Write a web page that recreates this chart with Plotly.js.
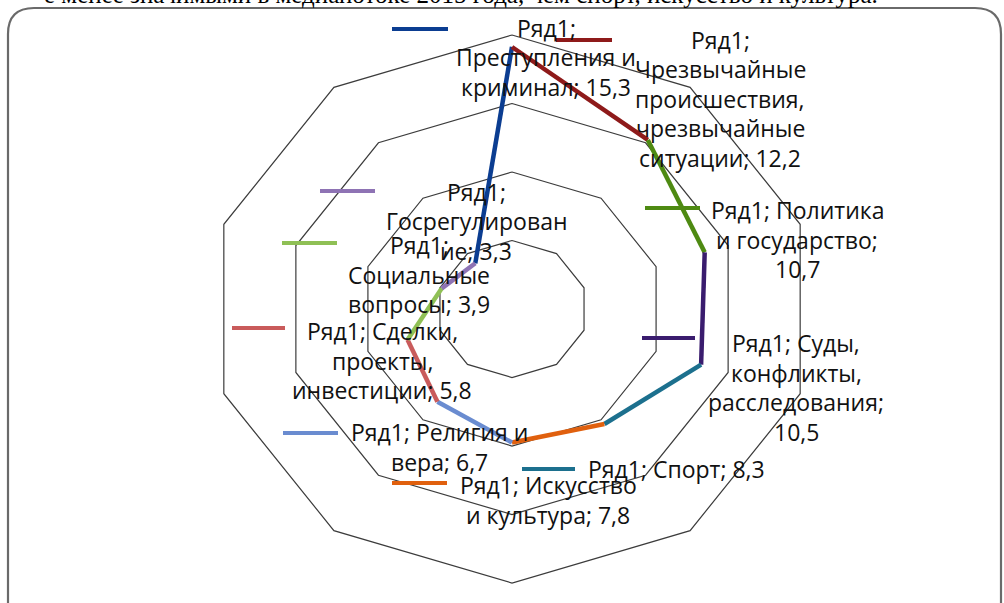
<!DOCTYPE html>
<html><head><meta charset="utf-8">
<script src="https://cdn.plot.ly/plotly-3.0.1.min.js"></script>
<style>html,body{margin:0;padding:0;background:#fff;overflow:hidden}#chart{width:1004px;height:603px;}</style>
</head><body><div id="chart"></div>
<script>
// ---------- data ----------
const seriesName = 'Ряд1';
const categories = [
  'Преступления и криминал',
  'Чрезвычайные происшествия, чрезвычайные ситуации',
  'Политика и государство',
  'Суды, конфликты, расследования',
  'Спорт',
  'Искусство и культура',
  'Религия и вера',
  'Сделки, проекты, инвестиции',
  'Социальные вопросы',
  'Госрегулирование'
];
const values = [15.3, 12.2, 10.7, 10.5, 8.3, 7.8, 6.7, 5.8, 3.9, 3.3];
const gridValues = [4, 8, 12, 16];
const pageText = 'е менее значимыми в медиапотоке 2015 года, чем спорт, искусство и культура.';

// ---------- styles / positions ----------
const colors = ['#0b3d91', '#8e1a1a', '#4e8a12', '#3a1c6e', '#1c708e',
                '#e0600e', '#6a8cd0', '#c95b5b', '#8fc055', '#8e73b4'];
const wrapWidths = [14, 14, 14, 14, 16, 15, 15, 15, 12, 14];
// label block: centre x (px), first line y (px)
const labelPos = [[546, 28], [720, 40], [797, 210], [796, 343], [676, 469],
                  [548, 485], [439, 432], [382, 331], [419, 245], [476, 192]];
// legend keys: x0, x1, y (px)
const keyPos = [[392, 448, 29], [556, 612, 40], [645, 700, 208], [642, 695, 338], [522, 575, 469],
                [392, 447, 483], [283, 338, 433], [232, 285, 328], [282, 337, 243], [320, 375, 191]];
const W = 1004, H = 603;
const CX = 512, CY = 309, RX = 303, RY = 274, RMAX = 16; // polar frame in px
const LINE_PITCH = 29.5;

const px = x => x / W;
const py = y => 1 - y / H;
const N = categories.length;
const ang = i => 2 * Math.PI * i / N;
const fmt = v => v.toFixed(1).replace('.', ',');

function wrap(text, w) {
  const words = text.split(' ');
  const lines = []; let cur = '';
  for (let wd of words) {
    const cand = cur ? cur + ' ' + wd : wd;
    if (cand.length <= w) { cur = cand; continue; }
    if (cur) { lines.push(cur); cur = ''; }
    while (wd.length > w) { lines.push(wd.slice(0, w)); wd = wd.slice(w); }
    cur = wd;
  }
  if (cur) lines.push(cur);
  return lines;
}

const traces = [];
// grid polygons
gridValues.forEach(g => {
  const xs = [], ys = [];
  for (let i = 0; i <= N; i++) { xs.push(g * Math.sin(ang(i % N))); ys.push(g * Math.cos(ang(i % N))); }
  traces.push({type: 'scatter', mode: 'lines', x: xs, y: ys,
    line: {color: '#3c3c3c', width: 1.2}, hoverinfo: 'skip', showlegend: false});
});
// series segments, coloured by point
for (let i = 0; i < N; i++) {
  const j = (i + N - 1) % N;
  traces.push({type: 'scatter', mode: 'lines', name: categories[i],
    x: [values[j] * Math.sin(ang(j)), values[i] * Math.sin(ang(i))],
    y: [values[j] * Math.cos(ang(j)), values[i] * Math.cos(ang(i))],
    line: {color: colors[i], width: 4.5}, showlegend: false});
}

const annotations = [];
const shapes = [];
for (let i = 0; i < N; i++) {
  const lines = wrap(`${seriesName}; ${categories[i]}; ${fmt(values[i])}`, wrapWidths[i]);
  lines.forEach((ln, k) => {
    annotations.push({xref: 'paper', yref: 'paper', x: px(labelPos[i][0]), y: py(labelPos[i][1] + k * LINE_PITCH),
      xanchor: 'center', yanchor: 'middle', showarrow: false, text: ln,
      font: {family: 'Open Sans', size: 23, color: '#111'}});
  });
  const k = keyPos[i];
  shapes.push({type: 'line', xref: 'paper', yref: 'paper', x0: px(k[0]), x1: px(k[1]), y0: py(k[2]), y1: py(k[2]),
    line: {color: colors[i], width: 4}});
}
// top page text (clipped)
annotations.push({xref: 'paper', yref: 'paper', x: px(880), y: py(10), xanchor: 'right', yanchor: 'bottom',
  showarrow: false, text: pageText, font: {family: 'Liberation Serif', size: 25, color: '#000'}});
// chart frame
const fx0 = 8, fy0 = 8, fx1 = 1001, fy1 = 603, r = 26;
shapes.push({type: 'path', xref: 'paper', yref: 'paper', line: {color: '#6a6a6a', width: 2.2},
  path: `M ${px(fx0)},${py(fy1 + 20)} L ${px(fx0)},${py(fy0 + r)} Q ${px(fx0)},${py(fy0)} ${px(fx0 + r)},${py(fy0)} ` +
        `L ${px(fx1 - r)},${py(fy0)} Q ${px(fx1)},${py(fy0)} ${px(fx1)},${py(fy0 + r)} L ${px(fx1)},${py(fy1 + 20)}`});

const xr = [-(CX) / RX * RMAX, (W - CX) / RX * RMAX];
const yr = [-(H - CY) / RY * RMAX, CY / RY * RMAX];
const layout = {
  width: W, height: H, margin: {l: 0, r: 0, t: 0, b: 0},
  paper_bgcolor: '#fff', plot_bgcolor: '#fff', showlegend: false,
  xaxis: {range: xr, visible: false, fixedrange: true},
  yaxis: {range: yr, visible: false, fixedrange: true},
  annotations, shapes
};
Plotly.newPlot('chart', traces, layout, {displayModeBar: false, staticPlot: true});
</script></body></html>
